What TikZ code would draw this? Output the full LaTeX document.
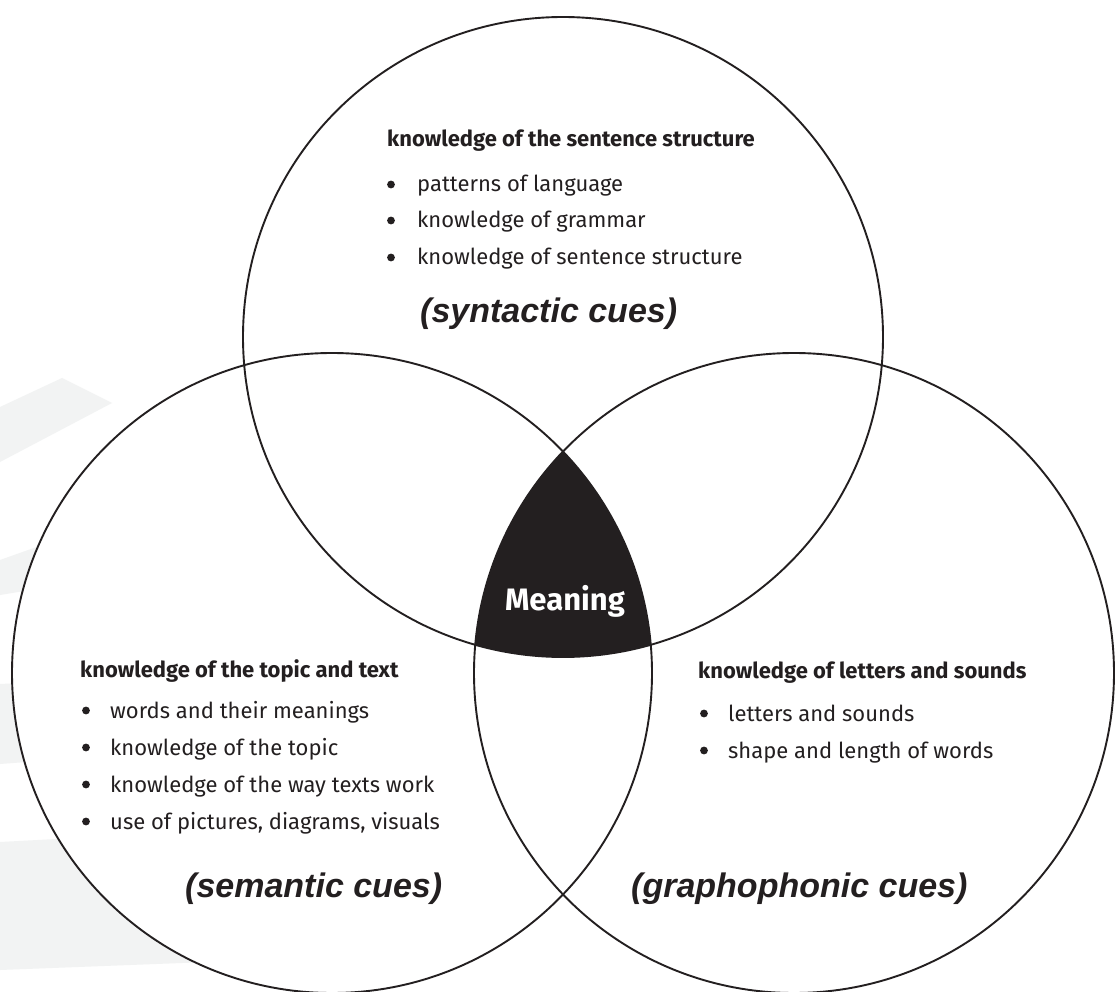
\documentclass[tikz,border=0pt]{standalone}
\usepackage{fontspec}
\setmainfont{Fira Sans}
\newfontfamily\cuefont{Liberation Sans}
\definecolor{ink}{HTML}{231F20}
\definecolor{bandgray}{HTML}{F2F3F3}
\begin{document}
\begin{tikzpicture}[x=1pt,y=-1pt,
  ring/.style={line width=1.9pt, draw=ink},
  head/.style={anchor=base west, font=\fontsize{22}{26}\selectfont\bfseries, text=ink, inner sep=0pt},
  item/.style={anchor=base west, font=\fontsize{22}{26}\selectfont, text=ink, inner sep=0pt},
  cue/.style={anchor=base west, font=\cuefont\fontsize{34}{40}\selectfont\bfseries\itshape, text=ink, inner sep=0pt},
  band/.style={fill=bandgray, draw=none},
  dot/.style={fill=ink}
]
\useasboundingbox (0,0) rectangle (1117,992);
\fill[white] (0,0) rectangle (1117,992);
% faint background bands
\fill[band] (0,407) -- (62,378) -- (112,403) -- (0,462) -- cycle;
\fill[band] (0,560) -- (90,528) -- (90,580) -- (0,595) -- cycle;
\fill[band] (0,684) -- (80,680) -- (80,758) -- (0,764) -- cycle;
\fill[band] (0,842) -- (150,834) -- (260,960) -- (0,970) -- cycle;
% circle centres
\coordinate (T) at (563,337);
\coordinate (L) at (332,673);
\coordinate (R) at (794,673);
% white fills
\fill[white] (T) circle (320);
\fill[white] (L) circle (320);
\fill[white] (R) circle (320);
% meaning region
\begin{scope}
  \clip (L) circle (320);
  \clip (R) circle (320);
  \fill[ink] (T) circle (320);
\end{scope}
% outlines
\draw[ring] (T) circle (320);
\draw[ring] (L) circle (320);
\draw[ring] (R) circle (320);
% meaning label
\node[anchor=base, text=white, inner sep=0pt, font=\fontsize{31}{36}\selectfont\bfseries] (meaning) at (565,610) {Meaning};
% top circle text
\node[head] (th) at (387,147) {knowledge of the sentence structure};
\node[item] (t1) at (417,192) {patterns of language};
\node[item] (t2) at (417,228) {knowledge of grammar};
\node[item] (t3) at (417,265) {knowledge of sentence structure};
\foreach \y in {192,228,265} \fill[dot] (391,\y-7.5) circle (3.9);
\node[cue] (tc) at (420,323) {(syntactic cues)};
% left circle text
\node[head] (lh) at (80,677) {knowledge of the topic and text};
\node[item] (l1) at (110,718) {words and their meanings};
\node[item] (l2) at (110,755) {knowledge of the topic};
\node[item] (l3) at (110,792) {knowledge of the way texts work};
\node[item] (l4) at (110,829) {use of pictures, diagrams, visuals};
\foreach \y in {718,755,792,829} \fill[dot] (86,\y-7.5) circle (3.9);
\node[cue] (lc) at (185,897) {(semantic cues)};
% right circle text
\node[head] (rh) at (698,678) {knowledge of letters and sounds};
\node[item] (r1) at (728,721) {letters and sounds};
\node[item] (r2) at (728,758) {shape and length of words};
\foreach \y in {721,758} \fill[dot] (704,\y-7.5) circle (3.9);
\node[cue] (rc) at (631,897) {(graphophonic cues)};
\end{tikzpicture}
\end{document}
